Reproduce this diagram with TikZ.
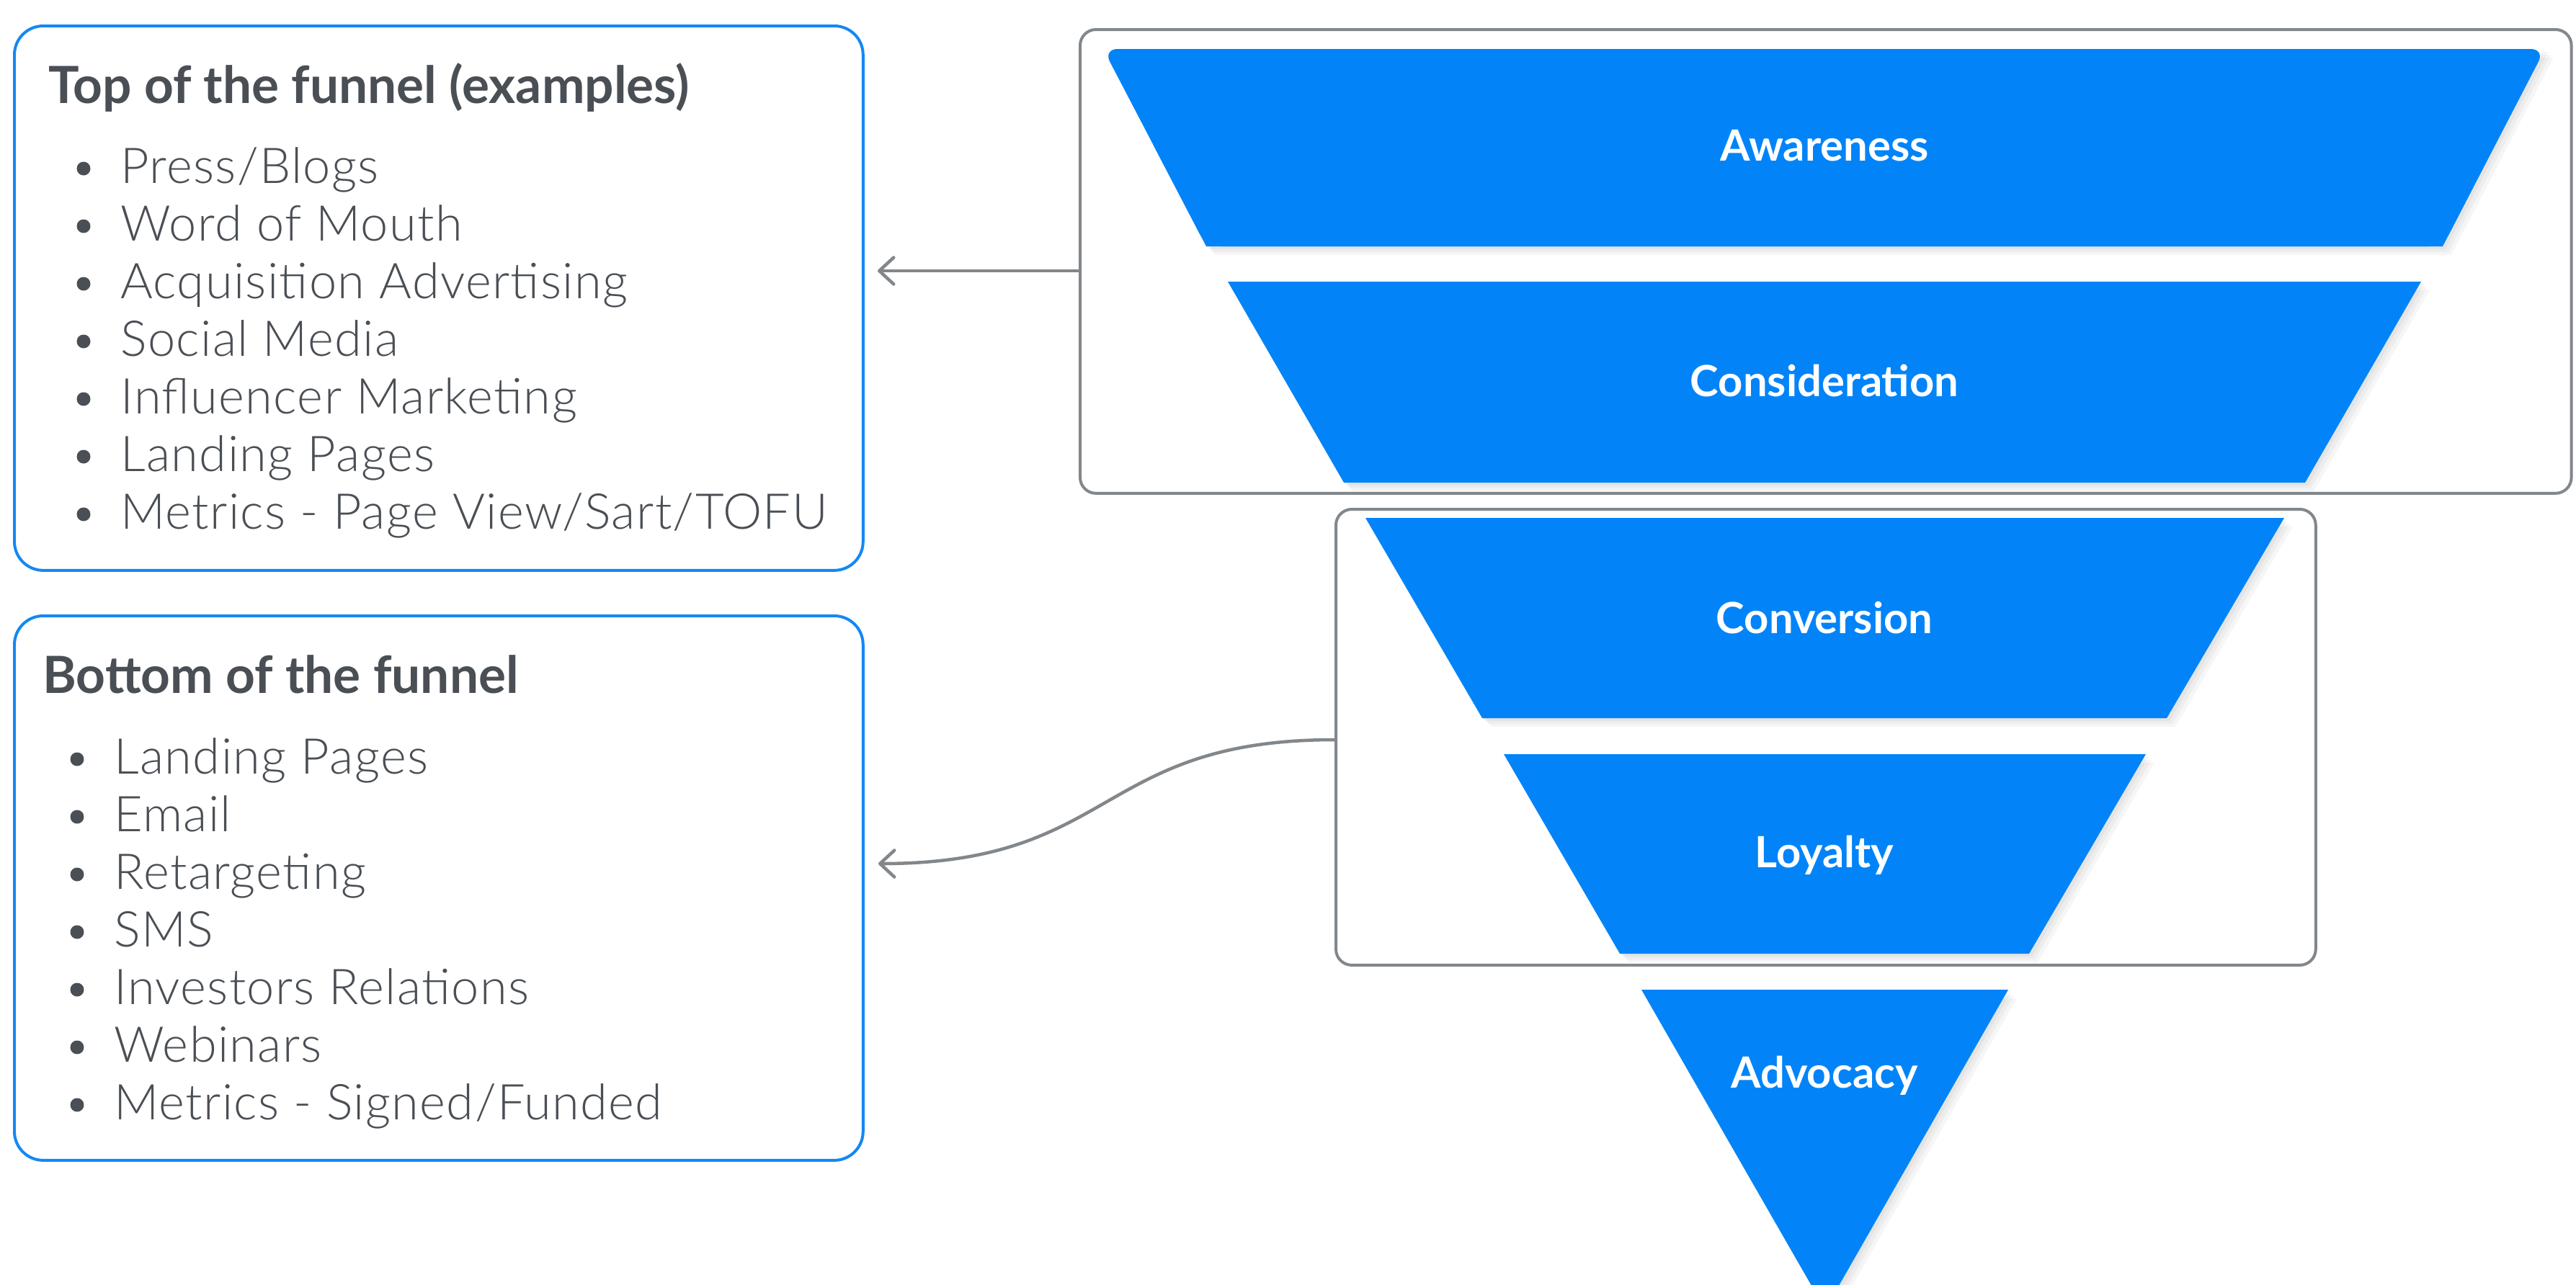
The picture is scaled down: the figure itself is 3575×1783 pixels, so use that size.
\documentclass[tikz,border=0pt]{standalone}
\usepackage{fontspec}
\setmainfont{Lato}
\newfontfamily\lightfont{Lato Light}[LetterSpace=2.0]
\usetikzlibrary{arrows.meta}
\definecolor{funblue}{RGB}{2,132,248}
\definecolor{boxblue}{RGB}{20,136,245}
\definecolor{txtgray}{RGB}{74,79,85}
\definecolor{lngray}{RGB}{130,135,139}
\begin{document}
\begin{tikzpicture}[x=0.02cm,y=-0.02cm,
  bluebox/.style={draw=boxblue, line width=0.08cm, rounded corners=0.8cm, inner sep=0, anchor=north west},
  graybox/.style={draw=lngray, line width=0.08cm, rounded corners=0.44cm, inner sep=0, anchor=north west},
  stage/.style={fill=funblue},
  shade/.style={fill=black, opacity=0.035},
  stagelabel/.style={text=white, font=\fontsize{34pt}{40pt}\selectfont\bfseries, anchor=base, inner sep=0},
  boxtitle/.style={text=txtgray, font=\fontsize{40.5pt}{46pt}\selectfont\bfseries, anchor=base west, inner sep=0},
  item/.style={text=txtgray, font=\lightfont\fontsize{39pt}{44pt}\selectfont, anchor=base west, inner sep=0},
  bul/.style={circle, fill=txtgray, inner sep=0, minimum size=0.38cm},
  conn/.style={draw=lngray, line width=0.09cm, line cap=round, -{Straight Barb[length=0.4cm,width=0.74cm,round]}}
]
\useasboundingbox (0,0) rectangle (3575,1783);
\fill[white] (0,0) rectangle (3575,1783);

% grey group boxes
\node[graybox, minimum width=41.4cm, minimum height=12.88cm] (topgroup) at (1497,39) {};
\node[graybox, minimum width=27.2cm, minimum height=12.66cm] (lowgroup) at (1852,705) {};

% funnel shadows
\foreach \d in {4,8,12}{
  \fill[shade] (1531+\d,68+\d) -- (3532+\d,68+\d) -- (3390+\d,342+\d) -- (1674+\d,342+\d) -- cycle;
  \fill[shade] (1704+\d,391+\d) -- (3360+\d,391+\d) -- (3199+\d,670+\d) -- (1865+\d,670+\d) -- cycle;
  \fill[shade] (1895+\d,719+\d) -- (3170+\d,719+\d) -- (3007+\d,997+\d) -- (2057+\d,997+\d) -- cycle;
  \fill[shade] (2087+\d,1047+\d) -- (2978+\d,1047+\d) -- (2816+\d,1324+\d) -- (2248+\d,1324+\d) -- cycle;
  \fill[shade] (2278+\d,1374+\d) -- (2787+\d,1374+\d) -- (2533+\d,1818+\d) -- cycle;
}

% funnel stages
\fill[stage, rounded corners=0.4cm] (1531,68) -- (3532,68) -- (3390,342) -- (1674,342) -- cycle;
\fill[stage] (1600,200) -- (3463,200) -- (3390,342) -- (1674,342) -- cycle;
\fill[stage] (1704,391) -- (3360,391) -- (3199,670) -- (1865,670) -- cycle;
\fill[stage] (1895,719) -- (3170,719) -- (3007,997) -- (2057,997) -- cycle;
\fill[stage] (2087,1047) -- (2978,1047) -- (2816,1324) -- (2248,1324) -- cycle;
\fill[stage] (2278,1374) -- (2787,1374) -- (2533,1818) -- cycle;

\node[stagelabel] (awareness) at (2532,223) {Awareness};
\node[stagelabel] (consideration) at (2532,550) {Consideration};
\node[stagelabel] (conversion) at (2532,879) {Conversion};
\node[stagelabel] (loyalty) at (2532,1204) {Loyalty};
\node[stagelabel] (advocacy) at (2532,1510) {Advocacy};

% blue boxes
\node[bluebox, minimum width=23.56cm, minimum height=15.12cm] (topbox) at (18,34) {};
\node[bluebox, minimum width=23.56cm, minimum height=15.12cm] (botbox) at (18,853) {};

\node[boxtitle] (toptitle) at (67,143) {Top of the funnel (examples)};
\foreach \t [count=\i from 0] in {Press/Blogs,Word of Mouth,Acquisition Advertising,Social Media,Influencer Marketing,Landing Pages,Metrics - Page View/Sart/TOFU}{
  \node[bul] (tb\i) at (116,234+80*\i) {};
  \node[item] (ti\i) at (167,254+80*\i) {\t};
}
\node[boxtitle] (bottitle) at (59,962) {Bottom of the funnel};
\foreach \t [count=\i from 0] in {Landing Pages,Email,Retargeting,SMS,Investors Relations,Webinars,Metrics - Signed/Funded}{
  \node[bul] (bb\i) at (107,1054+80*\i) {};
  \node[item] (bi\i) at (158,1074+80*\i) {\t};
}

% connectors
\coordinate (t1) at (1218,376);
\coordinate (t2) at (1219,1199);
\coordinate (s2) at (1852,1027);
\draw[conn] (topgroup.west |- t1) -- (t1);
\draw[conn] (lowgroup.west |- s2) .. controls +(-330,0) and +(330,0) .. (t2);
\end{tikzpicture}
\end{document}
